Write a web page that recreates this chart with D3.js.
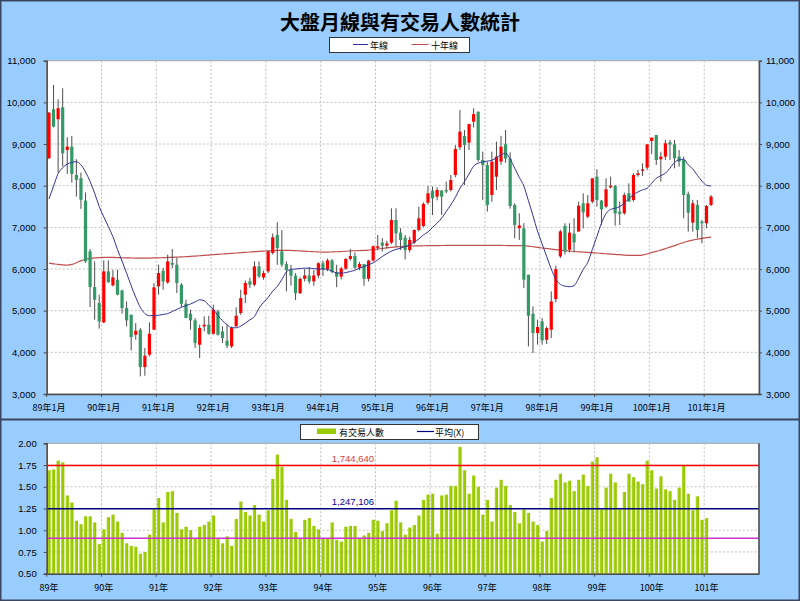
<!DOCTYPE html>
<html><head><meta charset="utf-8">
<script src="https://cdn.jsdelivr.net/npm/d3@7"></script>
<style>body{margin:0;background:#fff}svg{display:block}</style>
</head><body><svg id="c" width="800" height="601"></svg>
<script>
// ---- DATA ----
const opens = [8660,9835,9595,9882,8858,8938,8259,8180,7643,6423,5567,5183,
4719,5943,5607,5743,5487,5063,4903,4423,4543,3647,3943,4543,
5583,5959,5679,6143,6103,5623,5167,4927,4767,4183,4623,4663,
4447,4983,4503,4279,4143,4623,4943,5383,5703,5623,6063,5799,
5943,6383,6817,6423,6117,5977,5839,5420,5765,5845,5705,5844,
6139,5994,6207,5925,5818,6011,6241,6311,6033,6118,5764,6203,
6520,6633,6560,6633,7177,6873,6753,6454,6633,6937,7033,7593,
7881,7737,7881,7897,7897,8257,8921,9193,9033,9537,9777,8617,
8497,7777,8217,8577,8993,8650,7537,6980,6977,5863,4927,4463,
4743,4303,4543,5279,6303,7033,6463,6850,6900,7577,7257,7617,
8217,7641,7497,7961,7993,7377,7337,7817,7657,8257,8361,8433,
9073,9217,8633,8697,9040,8993,8697,8617,7801,7113,7537,7137,
7097,7537];
const highs = [9770,10417,10074,10338,9163,9195,8636,8314,7835,6480,6183,5383,
6207,6207,5983,5983,5503,5223,4903,4703,4583,4103,4719,5660,
6103,6023,6343,6479,6263,5663,5263,5023,4823,4663,4863,4879,
5143,5023,4623,4663,4623,5079,5503,5723,5790,6183,6183,5960,
6450,6850,7121,6937,6183,6100,5900,5800,6000,6050,5980,6160,
6200,6250,6240,6100,6050,6260,6480,6400,6170,6120,6220,6560,
6817,6737,6680,7457,7457,6980,6817,6777,6950,7497,7600,7993,
7977,7961,7897,8097,8257,8977,9817,9337,9481,9857,9777,8817,
8577,8817,9057,9197,9337,8800,7577,7337,7100,5863,5103,4783,
4823,4623,5463,6079,6943,7097,7097,7217,7617,7817,7777,8177,
8393,7657,8177,8217,8017,7617,7833,8057,8297,8377,8537,8993,
9161,9217,8817,9097,9097,9097,8857,8697,7857,7657,7657,7177,
7537,7777];
const lows = [8640,9400,8307,8458,8283,8075,7739,7444,6150,5087,4783,4567,
4703,5663,5580,5367,4927,4623,4047,4303,3423,3439,3903,4543,
5383,5503,5647,6023,5423,5087,4823,4543,4103,3863,4503,4423,
4423,4400,4223,4103,4103,4623,4900,5183,5540,5583,5783,5740,
5900,6350,6100,6050,5463,5600,5255,5400,5700,5650,5600,5780,
5830,5950,5900,5565,5750,5980,6200,6000,5970,5600,5700,6180,
6450,6420,6500,6600,6537,6457,6232,6400,6600,6900,7000,7550,
7297,7650,7297,7817,7860,8200,8857,8017,8857,9400,8577,7657,
7377,7617,7897,8500,8550,7450,6737,6697,5543,4143,3983,4183,
4183,4200,4343,5200,6263,6350,6400,6400,6897,6977,7217,7577,
7497,7057,7457,7937,7041,7057,7300,7617,7617,8217,8233,8377,
8761,8497,8097,8617,8617,8417,8457,7217,6897,6897,6737,6617,
6977,7510];
const closes = [9753,9418,9859,8779,8938,8283,8139,7660,6183,5567,5263,4743,
5943,5687,5799,5383,5063,4767,4367,4519,3647,3919,4447,5559,
5903,5703,6183,6103,5663,5167,4823,4767,4223,4583,4663,4447,
5023,4423,4343,4159,4583,4879,5303,5663,5623,6063,5823,5903,
6423,6761,6503,6103,5977,5839,5420,5765,5845,5705,5844,6139,
5994,6207,5925,5818,6011,6241,6311,6033,6118,5764,6203,6548,
6545,6560,6613,7177,6857,6697,6454,6700,6937,7217,7561,7817,
7697,7897,7737,7873,8137,8881,9297,8977,9481,9721,8617,8497,
7537,8577,8697,8937,8650,7513,7057,7046,5743,4879,4463,4607,
4287,4583,5223,5999,6903,6423,6873,6640,7520,7361,7577,8177,
7657,7433,7913,8001,7337,7321,7777,7617,8257,8297,8393,8993,
9153,8617,8697,9017,8990,8657,8577,7777,7353,7577,6937,7097,
7513,7737];
const yearMA = [7680,7990,8290,8430,8520,8560,8577,8500,8330,8100,7820,7500,
7250,7020,6777,6470,6190,5900,5600,5320,5080,4930,4880,4880,
4890,4910,4930,4980,5030,5080,5120,5160,5210,5260,5240,5130,
5030,4880,4760,4663,4590,4590,4630,4700,4780,4860,5060,5200,
5320,5470,5583,5750,5930,5990,6000,6010,6020,6020,6010,6000,
6000,5990,5950,5905,5900,5915,5940,5970,6020,6060,6100,6150,
6220,6300,6370,6430,6470,6500,6540,6580,6650,6720,6820,6890,
7000,7100,7220,7380,7540,7720,7937,8100,8280,8470,8540,8570,
8590,8610,8670,8740,8777,8640,8420,8200,7990,7640,7280,6910,
6600,6300,6000,5760,5630,5590,5575,5600,5780,5990,6160,6470,
6783,7100,7330,7430,7460,7497,7580,7690,7780,7850,7900,7937,
8060,8177,8240,8300,8420,8560,8620,8633,8500,8400,8250,8110,
8010,7993];
const tenYearMA = [6140,6125,6110,6100,6095,6110,6150,6200,6235,6255,6265,6275,
6280,6280,6278,6275,6270,6268,6265,6263,6262,6262,6263,6265,
6268,6272,6276,6280,6285,6290,6296,6302,6310,6318,6326,6335,
6344,6352,6360,6368,6376,6384,6392,6400,6408,6415,6425,6430,
6435,6440,6445,6447,6447,6445,6440,6435,6428,6420,6414,6410,
6407,6407,6410,6414,6420,6426,6432,6438,6440,6445,6455,6468,
6480,6493,6508,6520,6530,6538,6545,6550,6553,6556,6558,6560,
6562,6563,6564,6565,6566,6567,6567,6567,6567,6567,6567,6567,
6567,6567,6566,6565,6564,6563,6562,6561,6559,6550,6535,6520,
6505,6492,6479,6465,6452,6440,6430,6420,6412,6407,6400,6392,
6384,6375,6366,6357,6350,6343,6335,6328,6325,6326,6335,6360,
6400,6423,6455,6490,6525,6560,6600,6635,6670,6695,6715,6735,
6752,6767];
const traders = [1.69,1.70,1.80,1.78,1.40,1.32,1.11,1.07,1.16,1.16,1.09,0.84,
1.01,1.15,1.18,1.10,0.97,0.85,0.82,0.81,0.73,0.75,0.95,1.24,
1.37,1.09,1.44,1.45,1.20,1.01,1.04,1.00,0.91,1.04,1.06,1.10,
1.17,0.91,0.85,0.93,0.82,1.13,1.33,1.21,1.17,1.29,1.18,1.10,
1.23,1.59,1.87,1.73,1.35,1.13,0.98,0.91,1.12,1.14,1.05,1.01,
0.91,0.91,1.09,0.89,0.87,1.04,1.05,1.05,0.90,0.94,0.97,1.12,
1.11,0.99,1.08,1.23,1.34,1.09,0.95,1.03,1.06,1.17,1.35,1.41,
1.42,0.96,1.40,1.41,1.51,1.51,1.96,1.69,1.42,1.63,1.50,1.18,
1.35,1.10,1.49,1.58,1.51,1.29,1.21,1.08,1.24,1.20,1.10,1.06,
0.87,0.99,1.37,1.58,1.65,1.55,1.57,1.45,1.58,1.64,1.51,1.79,
1.84,1.24,1.49,1.65,1.55,1.24,1.44,1.65,1.61,1.56,1.53,1.80,
1.69,1.48,1.62,1.47,1.45,1.35,1.49,1.75,1.42,1.23,1.39,1.12,1.14];
const priceTicks = [3000,4000,5000,6000,7000,8000,9000,10000,11000];
const volTicks = [0.5,0.75,1.0,1.25,1.5,1.75,2.0];
const topXLabels = ["89年1月","90年1月","91年1月","92年1月","93年1月","94年1月","95年1月","96年1月","97年1月","98年1月","99年1月","100年1月","101年1月"];
const botXLabels = ["89年","90年","91年","92年","93年","94年","95年","96年","97年","98年","99年","100年","101年"];
const maxLine = 1.74464, avgLine = 1.247106, minLine = 0.907;
const maxLabel = "1,744,640", avgLabel = "1,247,106";

// ---- LAYOUT ----
const W = 800, H = 601;
const svg = d3.select("#c");
const L = 46.7, R = 759;
const nMonths = 156;
const x = d3.scaleBand().domain(d3.range(nMonths)).range([L, R]).padding(0);
const bw = x.bandwidth();
const cx = i => x(i) + bw / 2;
const yP = d3.scaleLinear().domain([3000, 11000]).range([394, 60.7]);
const yV = d3.scaleLinear().domain([0.5, 2.0]).range([573.7, 443.3]);
const numFont = "'Liberation Sans', Arial, sans-serif";
const cjkFont = "'Noto Sans CJK TC', 'Noto Sans CJK SC', sans-serif";

const defs = svg.append("defs");
const grad = defs.append("linearGradient").attr("id","barGrad").attr("x1","0").attr("x2","1").attr("y1","0").attr("y2","0");
grad.append("stop").attr("offset","0%").attr("stop-color","#b5dc3c");
grad.append("stop").attr("offset","45%").attr("stop-color","#9ccc00");
grad.append("stop").attr("offset","100%").attr("stop-color","#92c400");

// background
svg.append("rect").attr("x",0).attr("y",0).attr("width",W).attr("height",H).attr("fill","#99CCFF");
// plot areas
svg.append("rect").attr("x",L).attr("y",60.7).attr("width",R-L).attr("height",394-60.7).attr("fill","#fff").attr("stroke","#a6a6a6").attr("stroke-width",1);
svg.append("rect").attr("x",L).attr("y",443.3).attr("width",R-L).attr("height",573.7-443.3).attr("fill","#fff").attr("stroke","#a6a6a6").attr("stroke-width",1);

// title
svg.append("text").attr("x",400).attr("y",29.5).attr("text-anchor","middle")
  .attr("font-family",cjkFont).attr("font-weight","bold").attr("font-size",20).attr("fill","#000")
  .text("大盤月線與有交易人數統計");

// legend top
const lg = svg.append("g");
lg.append("rect").attr("x",329.5).attr("y",37.5).attr("width",140).attr("height",15).attr("fill","#fff").attr("stroke","#333").attr("stroke-width",1);
lg.append("line").attr("x1",353).attr("x2",368).attr("y1",44.5).attr("y2",44.5).attr("stroke","#333399").attr("stroke-width",1);
lg.append("text").attr("x",370).attr("y",48.5).attr("font-family",cjkFont).attr("font-size",9).attr("fill","#000").text("年線");
lg.append("line").attr("x1",411.5).attr("x2",428.5).attr("y1",44.5).attr("y2",44.5).attr("stroke","#C0504D").attr("stroke-width",1);
lg.append("text").attr("x",431).attr("y",48.5).attr("font-family",cjkFont).attr("font-size",9).attr("fill","#000").text("十年線");

// grids top
const yearStarts = d3.range(1, 13).map(k => k * 12);
const gTop = svg.append("g");
gTop.selectAll("line.h").data(priceTicks.slice(1, -1)).join("line")
  .attr("x1",L).attr("x2",R).attr("y1",d=>yP(d)).attr("y2",d=>yP(d))
  .attr("stroke","#bfbfbf").attr("stroke-dasharray","2,2").attr("stroke-width",1);
gTop.selectAll("line.v").data(yearStarts).join("line")
  .attr("x1",d=>x(d)).attr("x2",d=>x(d)).attr("y1",60.7).attr("y2",394)
  .attr("stroke","#bfbfbf").attr("stroke-dasharray","2,2").attr("stroke-width",1);

// ten-year line (behind candles)
const lineGen = (yS) => d3.line().x((d,i)=>cx(i)).y(d=>yS(d)).curve(d3.curveMonotoneX);
svg.append("path").datum(tenYearMA).attr("d",lineGen(yP)).attr("fill","none").attr("stroke","#C0504D").attr("stroke-width",1.2);

// candles
const idx = d3.range(closes.length);
const cg = svg.append("g");
cg.selectAll("line.w").data(idx).join("line")
  .attr("x1",i=>cx(i)).attr("x2",i=>cx(i)).attr("y1",i=>yP(highs[i])).attr("y2",i=>yP(lows[i]))
  .attr("stroke","#4d4d4d").attr("stroke-width",1);
const bodyW = 3.2;
cg.selectAll("rect.b").data(idx).join("rect")
  .attr("x",i=>cx(i)-bodyW/2).attr("width",bodyW)
  .attr("y",i=>yP(Math.max(opens[i],closes[i])))
  .attr("height",i=>Math.max(1.5, Math.abs(yP(opens[i])-yP(closes[i]))))
  .attr("fill",i=>closes[i]>=opens[i] ? "#FF0000" : "#339966");

// year line
svg.append("path").datum(yearMA).attr("d",lineGen(yP)).attr("fill","none").attr("stroke","#333399").attr("stroke-width",1);

// top axes
function styleAxis(g, font, size){
  g.selectAll("text").attr("font-family",font).attr("font-size",size).attr("fill","#000");
  g.select(".domain").attr("stroke","#4d4d4d").attr("stroke-width",1.5);
  g.selectAll(".tick line").attr("stroke","#4d4d4d");
}
const fmt = d3.format(",");
const aL = svg.append("g").attr("transform",`translate(${L},0)`)
  .call(d3.axisLeft(yP).tickValues(priceTicks).tickFormat(fmt).tickSize(3).tickPadding(8));
styleAxis(aL, numFont, 9.5);
const aR = svg.append("g").attr("transform",`translate(${R},0)`)
  .call(d3.axisRight(yP).tickValues(priceTicks).tickFormat(fmt).tickSize(3).tickPadding(4));
styleAxis(aR, numFont, 9.5);
const aB = svg.append("g").attr("transform",`translate(0,394)`)
  .call(d3.axisBottom(x).tickValues([0].concat(yearStarts)).tickFormat((d)=>topXLabels[d/12]).tickSize(0).tickPadding(11));
styleAxis(aB, cjkFont, 9);
aB.select(".domain").attr("stroke","#4d4d4d");
svg.append("g").selectAll("line").data([0].concat(yearStarts)).join("line")
  .attr("x1",d=>x(d)).attr("x2",d=>x(d)).attr("y1",394).attr("y2",397).attr("stroke","#4d4d4d");

// panel separator
svg.append("line").attr("x1",0).attr("x2",W).attr("y1",419.5).attr("y2",419.5).attr("stroke","#3a4660").attr("stroke-width",2);

// bottom legend
const lg2 = svg.append("g");
lg2.append("rect").attr("x",300.5).attr("y",424.5).attr("width",178).attr("height",15).attr("fill","#fff").attr("stroke","#333").attr("stroke-width",1);
lg2.append("rect").attr("x",317).attr("y",428.5).attr("width",19).attr("height",5.5).attr("fill","#99CC00");
lg2.append("text").attr("x",339).attr("y",435.5).attr("font-family",cjkFont).attr("font-size",9).attr("fill","#000").text("有交易人數");
lg2.append("line").attr("x1",417).attr("x2",434).attr("y1",431.5).attr("y2",431.5).attr("stroke","#000080").attr("stroke-width",1.2);
lg2.append("text").attr("x",435).attr("y",435.5).attr("font-family",cjkFont).attr("font-size",9).attr("fill","#000").text("平均(X)");

// bottom grids
const gBot = svg.append("g");
gBot.selectAll("line.h").data(volTicks.slice(1,-1)).join("line")
  .attr("x1",L).attr("x2",R).attr("y1",d=>yV(d)).attr("y2",d=>yV(d))
  .attr("stroke","#bfbfbf").attr("stroke-dasharray","2,2");
gBot.selectAll("line.v").data(yearStarts).join("line")
  .attr("x1",d=>x(d)).attr("x2",d=>x(d)).attr("y1",443.3).attr("y2",573.7)
  .attr("stroke","#bfbfbf").attr("stroke-dasharray","2,2");

// bars
const barW = 3.3;
svg.append("g").selectAll("rect").data(traders).join("rect")
  .attr("x",(d,i)=>cx(i)-barW/2).attr("width",barW)
  .attr("y",d=>yV(d)).attr("height",d=>yV(0.5)-yV(d))
  .attr("fill","url(#barGrad)");

// reference lines
[[maxLine,"#FF0000"],[avgLine,"#000080"],[minLine,"#CC33CC"]].forEach(([v,c])=>{
  svg.append("line").attr("x1",L).attr("x2",R).attr("y1",yV(v)).attr("y2",yV(v)).attr("stroke",c).attr("stroke-width",1.5);
});
svg.append("text").attr("x",353).attr("y",yV(maxLine)-3.5).attr("text-anchor","middle")
  .attr("font-family",numFont).attr("font-size",9.5).attr("fill","#E03C3C").text(maxLabel);
svg.append("text").attr("x",353).attr("y",yV(avgLine)-4).attr("text-anchor","middle")
  .attr("font-family",numFont).attr("font-size",9.5).attr("fill","#0000A0").text(avgLabel);

// bottom axes
const vfmt = d3.format(".2f");
const bL = svg.append("g").attr("transform",`translate(${L},0)`)
  .call(d3.axisLeft(yV).tickValues(volTicks).tickFormat(vfmt).tickSize(3).tickPadding(7));
styleAxis(bL, numFont, 9.5);
svg.append("line").attr("x1",R).attr("x2",R).attr("y1",443.3).attr("y2",573.7).attr("stroke","#4d4d4d").attr("stroke-width",1.5);
const bB = svg.append("g").attr("transform",`translate(0,573.7)`)
  .call(d3.axisBottom(x).tickValues([0].concat(yearStarts)).tickFormat(d=>botXLabels[d/12]).tickSize(0).tickPadding(11));
styleAxis(bB, cjkFont, 9);
svg.append("g").selectAll("line").data([0].concat(yearStarts)).join("line")
  .attr("x1",d=>x(d)).attr("x2",d=>x(d)).attr("y1",573.7).attr("y2",576.7).attr("stroke","#4d4d4d");

// outer border
svg.append("rect").attr("x",0.75).attr("y",0.75).attr("width",W-1.5).attr("height",H-1.5).attr("fill","none").attr("stroke","#3a4660").attr("stroke-width",1.5);
</script>
</body></html>
